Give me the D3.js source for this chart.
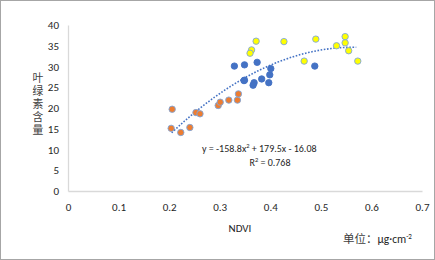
<!DOCTYPE html>
<html>
<head>
<meta charset="utf-8">
<script src="https://cdn.jsdelivr.net/npm/d3@7"></script>
<style>
    body { margin: 0; background: #fff; }
    text { font-family: Calibri, Carlito, "Liberation Sans", "Noto Sans", sans-serif; fill: #262626; }
    .cjk { font-family: "Noto Sans CJK SC", sans-serif; fill: #404040; }
</style>
</head>
<body>
<div class="graph"></div>
<script>
// data ------------------------------------------
const lowNdvi = [0.206, 0.204, 0.223, 0.241, 0.253, 0.261, 0.297, 0.301, 0.318, 0.335, 0.337]
const lowChl  = [19.7, 15.1, 14.1, 15.3, 18.9, 18.6, 20.6, 21.4, 21.9, 21.9, 23.4]

const midNdvi = [0.329, 0.349, 0.374, 0.401, 0.399, 0.383, 0.397, 0.368, 0.366, 0.349, 0.348, 0.488]
const midChl  = [30.1, 30.4, 31.0, 29.5, 28.0, 27.0, 26.1, 26.1, 25.5, 26.7, 26.6, 30.1]

const highNdvi = [0.372, 0.363, 0.360, 0.427, 0.490, 0.467, 0.548, 0.548, 0.531, 0.555, 0.573]
const highChl  = [36.1, 34.0, 33.2, 36.0, 36.6, 31.3, 37.2, 35.7, 35.0, 33.8, 31.3]

// trendline y = a x^2 + b x + c, printed on the chart
const trendCoef = [-158.8, 179.5, -16.08]
const trendRange = [0.205, 0.57]

const xTicks = [0, 0.1, 0.2, 0.3, 0.4, 0.5, 0.6, 0.7]
const yTicks = [0, 5, 10, 15, 20, 25, 30, 35, 40]
const yTitle = '叶绿素含量'

// config ---------------------
const w = 435
const h = 260
const colours = {
    low: '#ED7D31',
    mid: '#4472C4',
    high: '#FFFF00',
    edge: '#7FA6DB',
    trend: '#4472C4',
    axis: '#D9D9D9'
}

const xScale = d3.scaleLinear().domain([0, 0.7]).range([68, 422])
const yScale = d3.scaleLinear().domain([0, 40]).range([191, 25])

const svg = d3.select('.graph')
    .append('svg')
    .attr('width', w)
    .attr('height', h)

// outer border
svg.append('rect')
    .attr('x', 0.5).attr('y', 0.5)
    .attr('width', w - 1).attr('height', h - 1)
    .attr('fill', '#fff')
    .attr('stroke', '#A6A6A6')

// axes
const xAxis = d3.axisBottom(xScale).tickValues(xTicks).tickSize(0).tickPadding(12)
    .tickFormat(d => d === 0 ? '0' : d3.format('.1f')(d))
const yAxis = d3.axisLeft(yScale).tickValues(yTicks).tickSize(0).tickPadding(9)

const gx = svg.append('g')
    .attr('transform', 'translate(0,' + yScale(0) + ')')
    .call(xAxis)
const gy = svg.append('g')
    .attr('transform', 'translate(' + xScale(0) + ',0)')
    .call(yAxis)

for (const g of [gx, gy]) {
    g.select('.domain').attr('stroke', colours.axis).attr('stroke-width', 1.3)
    g.selectAll('text').attr('font-size', 11).style('fill', '#262626')
}

// titles
svg.append('text')
    .attr('x', 240).attr('y', 229)
    .attr('text-anchor', 'middle')
    .attr('dominant-baseline', 'middle')
    .attr('font-size', 11)
    .text('NDVI')

// stacked vertical title
svg.append('text')
    .attr('class', 'cjk')
    .attr('x', 38)
    .attr('y', 105)
    .attr('text-anchor', 'middle')
    .attr('font-size', 10.8)
    .style('writing-mode', 'vertical-rl')
    .style('letter-spacing', '2.4px')
    .text(yTitle)

const unit = svg.append('text')
    .attr('x', 343).attr('y', 243)
    .attr('font-size', 11.5)
unit.append('tspan').attr('class', 'cjk').text('单位：')
unit.append('tspan').text('μg·cm')
unit.append('tspan').attr('font-size', 7).attr('dy', -4).text('-2')

// trendline
const trendFn = x => trendCoef[0] * x * x + trendCoef[1] * x + trendCoef[2]
const trendX = d3.range(trendRange[0], trendRange[1] + 0.0001, 0.005)
svg.append('path')
    .datum(trendX)
    .attr('d', d3.line().x(d => xScale(d)).y(d => yScale(trendFn(d))).curve(d3.curveBasis))
    .attr('fill', 'none')
    .attr('stroke', colours.trend)
    .attr('stroke-width', 1.6)
    .attr('stroke-dasharray', '1.6,1.6')

// points
const groups = [
    { xs: lowNdvi, ys: lowChl, fill: colours.low },
    { xs: midNdvi, ys: midChl, fill: colours.mid },
    { xs: highNdvi, ys: highChl, fill: colours.high }
]

groups.forEach(gr => {
    svg.append('g')
        .selectAll('circle')
        .data(gr.xs.map((x, i) => ({ x: x, y: gr.ys[i] })))
        .join('circle')
        .attr('cx', d => xScale(d.x))
        .attr('cy', d => yScale(d.y))
        .attr('r', 3.2)
        .attr('fill', gr.fill)
        .attr('stroke', gr.fill === colours.mid ? colours.mid : colours.edge)
        .attr('stroke-width', 0.9)
})

// equation
const eq = svg.append('text')
    .attr('x', 202).attr('y', 152)
    .attr('font-size', 10)
eq.append('tspan').text('y = -158.8x')
eq.append('tspan').attr('font-size', 6.5).attr('dy', -4).text('2')
eq.append('tspan').attr('dy', 4).text(' + 179.5x - 16.08')

const r2 = svg.append('text')
    .attr('x', 270).attr('y', 166)
    .attr('text-anchor', 'middle')
    .attr('font-size', 10)
r2.append('tspan').text('R')
r2.append('tspan').attr('font-size', 6.5).attr('dy', -4).text('2')
r2.append('tspan').attr('dy', 4).text(' = 0.768')
</script>
</body>
</html>
